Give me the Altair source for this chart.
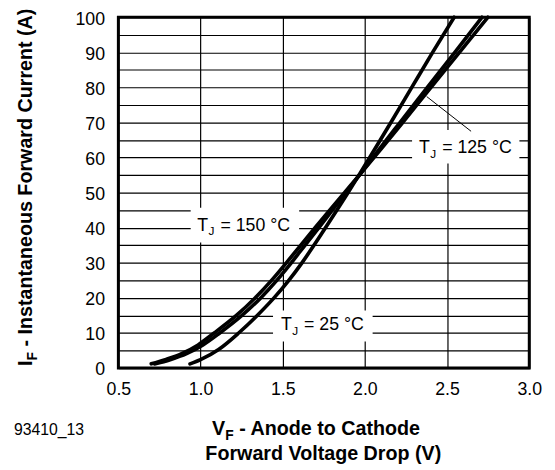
import altair as alt
import pandas as pd

# ---- curve data (V_F in volts, I_F in amperes) ----
I_25 = [1.2, 2.4, 5.3, 10, 15, 20, 25, 30, 35, 40, 45, 50, 55.5, 63, 70, 80, 90, 100]
V_25 = [0.936, 1.0, 1.11, 1.232, 1.345, 1.447, 1.537, 1.617, 1.69, 1.76, 1.829, 1.897, 1.97, 2.068, 2.158, 2.285, 2.412, 2.543]

I_HOT = [1.2, 2.4, 4.1, 6.6, 10, 15, 20, 25, 30, 35, 40, 45, 50, 55.5, 62.5, 69.5, 80, 90.3, 100]
V_125 = [0.72, 0.815, 0.915, 1.015, 1.117, 1.252, 1.366, 1.464, 1.552, 1.635, 1.719, 1.802, 1.884, 1.975, 2.089, 2.205, 2.38, 2.552, 2.712]
V_150 = [0.70, 0.785, 0.885, 0.985, 1.083, 1.218, 1.332, 1.432, 1.522, 1.609, 1.697, 1.786, 1.876, 1.975, 2.099, 2.221, 2.402, 2.58, 2.748]

# ---- axes ----
X_TICKS = [0.5, 1.0, 1.5, 2.0, 2.5, 3.0]
Y_GRID = list(range(0, 101, 5))

# ---- annotations: label anchor (V, A), white box behind it ----
LABEL_REST = ["= 150 °C", "= 25 °C", "= 125 °C"]
LABEL_V = [0.98, 1.489, 2.329]
LABEL_I = [39.2, 10.9, 61.4]
BOX_V1 = [0.94, 1.441, 2.287]
BOX_V2 = [1.60, 2.047, 2.94]
BOX_I1 = [35.8, 7.6, 58.3]
BOX_I2 = [45.7, 16.4, 67.9]
LEADER = {"v": 2.646, "i": 67.5, "v2": 2.376, "i2": 77.4}

FONT = "Liberation Sans"

rows = []
for v, i in zip(V_25, I_25):
    rows.append({"series": "25", "V": v, "I": i})
for v, i in zip(V_125, I_HOT):
    rows.append({"series": "125", "V": v, "I": i})
for v, i in zip(V_150, I_HOT):
    rows.append({"series": "150", "V": v, "I": i})
curves = pd.DataFrame(rows)
curves["order"] = range(len(curves))

labels = pd.DataFrame({
    "rest": LABEL_REST, "V": LABEL_V, "I": LABEL_I,
    "bv1": BOX_V1, "bv2": BOX_V2, "bi1": BOX_I1, "bi2": BOX_I2,
})
leader = pd.DataFrame([LEADER])

xscale = alt.Scale(domain=[0.5, 3.0], nice=False, zero=False)
yscale = alt.Scale(domain=[0, 100], nice=False, zero=False)

xaxis = alt.Axis(values=X_TICKS, format=".1f", title=None, grid=True,
                 labelPadding=13, labelFlush=False, labelOverlap=False)
yaxis = alt.Axis(values=Y_GRID, labelExpr="datum.value % 10 == 0 ? datum.label : ''",
                 title=None, grid=True, labelPadding=14, labelFlush=False,
                 labelOverlap=False, labelOffset=2)


def X(field):
    return alt.X(field, scale=xscale, axis=xaxis)


def Y(field):
    return alt.Y(field, scale=yscale, axis=yaxis)


boxes = alt.Chart(labels).mark_rect(fill="white").encode(
    x=X("bv1:Q"), x2="bv2:Q", y=Y("bi1:Q"), y2="bi2:Q",
)

lines = alt.Chart(curves).mark_line(
    color="black", strokeWidth=3.7, interpolate="monotone", strokeCap="round"
).encode(
    x=X("V:Q"), y=Y("I:Q"), detail="series:N", order="order:Q",
)

lead = alt.Chart(leader).mark_rule(color="black", strokeWidth=1).encode(
    x=X("v:Q"), y=Y("i:Q"), x2="v2:Q", y2="i2:Q",
)

tT = alt.Chart(labels).mark_text(
    text="T", font=FONT, fontSize=18, align="left", baseline="alphabetic", color="black"
).encode(x=X("V:Q"), y=Y("I:Q"))
tJ = alt.Chart(labels).mark_text(
    text="J", font=FONT, fontSize=12, align="left", baseline="alphabetic",
    dx=11.5, dy=5, color="black"
).encode(x=X("V:Q"), y=Y("I:Q"))
tR = alt.Chart(labels).mark_text(
    font=FONT, fontSize=18, align="left", baseline="alphabetic", dx=23.5, color="black"
).encode(x=X("V:Q"), y=Y("I:Q"), text="rest:N")

one = pd.DataFrame({"k": [0]})


def txt(text, x, y, size, bold=False, align="left", angle=0, dx=0, dy=0):
    kw = dict(text=text, font=FONT, fontSize=size, align=align, baseline="alphabetic",
              color="black", dx=dx, dy=dy)
    if bold:
        kw["fontWeight"] = "bold"
    if angle:
        kw["angle"] = angle
    return alt.Chart(one).mark_text(**kw).encode(x=alt.value(x), y=alt.value(y))


# y title (rotated), with subscript F
YX, YY = -88, 354
ytitle = [
    txt("I", YX, YY, 20, bold=True, angle=270),
    txt("F", YX, YY, 14, bold=True, angle=270, dx=5.6, dy=5),
    txt("- Instantaneous Forward Current (A)", YX, YY, 20, bold=True, angle=270, dx=19.8),
]
# x title, two lines, with subscript F
XX, XY = 95, 424
xtitle = [
    txt("V", XX, XY, 20, bold=True),
    txt("F", XX, XY, 14, bold=True, dx=13.4, dy=5),
    txt("- Anode to Cathode", XX, XY, 20, bold=True, dx=27.6),
    txt("Forward Voltage Drop (V)", 208, 449, 20, bold=True, align="center"),
]
code = [txt("93410_13", -106, 424, 16)]

chart = alt.layer(boxes, lines, lead, tT, tJ, tR, *ytitle, *xtitle, *code).properties(
    width=417, height=356,
    autosize=alt.AutoSizeParams(type="none"),
    padding={"left": 112, "top": 6, "right": 18, "bottom": 98},
).configure_view(
    stroke="black", strokeWidth=3
).configure_axis(
    labelFont=FONT, labelFontSize=18, labelColor="black",
    gridColor="black", gridWidth=1.2, gridOpacity=1,
    domain=False, ticks=False, tickSize=0,
)

chart.save("out.html", embed_options={"renderer": "svg", "actions": False})
